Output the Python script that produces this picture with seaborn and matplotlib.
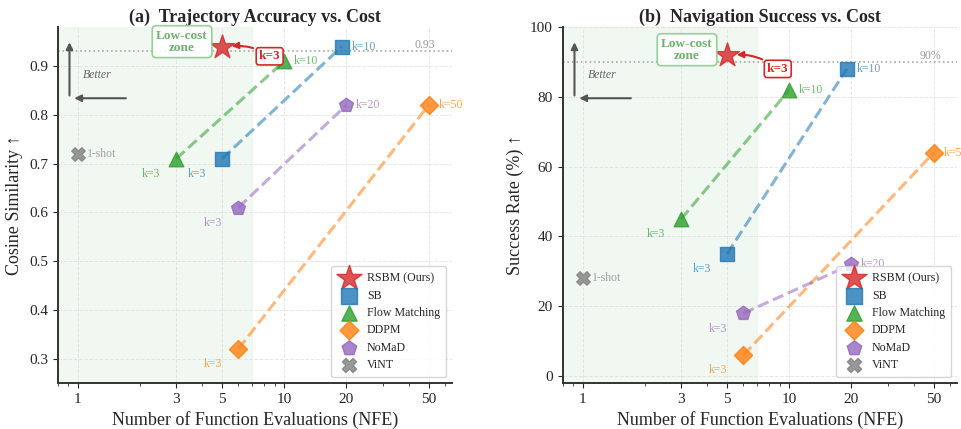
import numpy as np
import pandas as pd
import matplotlib
matplotlib.use('Agg')
import matplotlib.pyplot as plt
import seaborn as sns
from matplotlib.ticker import FixedLocator, FixedFormatter, LogLocator, NullFormatter

# Data
methods = ['RSBM (Ours)', 'SB', 'Flow Matching', 'DDPM', 'NoMaD', 'ViNT']
nfe = {
    'RSBM (Ours)': [5],
    'SB': [5, 19],
    'Flow Matching': [3, 10],
    'DDPM': [6, 50],
    'NoMaD': [6, 20],
    'ViNT': [1],
}
cos_sim = {
    'RSBM (Ours)': [0.94],
    'SB': [0.71, 0.94],
    'Flow Matching': [0.71, 0.91],
    'DDPM': [0.32, 0.82],
    'NoMaD': [0.61, 0.82],
    'ViNT': [0.72],
}
success = {
    'RSBM (Ours)': [92],
    'SB': [35, 88],
    'Flow Matching': [45, 82],
    'DDPM': [6, 64],
    'NoMaD': [18, 32],
    'ViNT': [28],
}
k_labels = {
    'RSBM (Ours)': [],
    'SB': ['k=3', 'k=10'],
    'Flow Matching': ['k=3', 'k=10'],
    'DDPM': ['k=3', 'k=50'],
    'NoMaD': ['k=3', 'k=20'],
    'ViNT': ['1-shot'],
}
x_ticks = [1, 3, 5, 10, 20, 50]

colors = {
    'RSBM (Ours)': '#d62728', 'SB': '#1f77b4', 'Flow Matching': '#2ca02c',
    'DDPM': '#ff7f0e', 'NoMaD': '#9467bd', 'ViNT': '#7f7f7f',
}
markers = {
    'RSBM (Ours)': '*', 'SB': 's', 'Flow Matching': '^',
    'DDPM': 'D', 'NoMaD': 'p', 'ViNT': 'X',
}
sizes = {
    'RSBM (Ours)': 330, 'SB': 110, 'Flow Matching': 110,
    'DDPM': 85, 'NoMaD': 110, 'ViNT': 95,
}

sns.set_style('ticks')
plt.rcParams['font.family'] = ['Liberation Serif', 'DejaVu Serif']
plt.rcParams['mathtext.fontset'] = 'stix'


def draw_panel(ax, values, title, ylabel, ylim, yticks, ref_val, ref_txt,
               zone_y, k3_xy):
    ax.axvspan(0.8, 7, color='#e8f3e8', alpha=0.6, zorder=0)
    ax.axhline(ref_val, color='#aaaaaa', ls=':', lw=1.2, zorder=1)
    ax.text(48, ref_val, ref_txt, color='#999999', fontsize=8.5,
            ha='center', va='bottom')

    for m in methods:
        df = pd.DataFrame({'nfe': nfe[m], 'val': values[m]})
        if len(df) > 1:
            sns.lineplot(data=df, x='nfe', y='val', ax=ax, color=colors[m],
                         ls='--', lw=2.2, alpha=0.55, legend=False, zorder=2)
        sns.scatterplot(data=df, x='nfe', y='val', ax=ax, color=colors[m],
                        marker=markers[m], s=sizes[m], alpha=0.8,
                        edgecolor=colors[m], linewidth=1.0, label=m, zorder=4)
        for i, lab in enumerate(k_labels[m]):
            if lab == 'k=3':
                ax.annotate(lab, (df.nfe[i], df.val[i]), xytext=(-18, -11),
                            textcoords='offset points', ha='center',
                            va='center', fontsize=8.5, color=colors[m], alpha=0.7)
            else:
                ax.annotate(lab, (df.nfe[i], df.val[i]), xytext=(7, 0),
                            textcoords='offset points', ha='left',
                            va='center', fontsize=8.5, color=colors[m], alpha=0.7)

    # RSBM callout
    star_x, star_y = nfe['RSBM (Ours)'][0], values['RSBM (Ours)'][0]
    ax.annotate('k=3', xy=(star_x * 1.08, star_y), xytext=k3_xy,
                fontsize=9.5, fontweight='bold', color='#d62728',
                ha='center', va='center',
                bbox=dict(boxstyle='round,pad=0.2', fc='white', ec='#d62728', lw=1.2),
                arrowprops=dict(arrowstyle='-|>', color='#d62728', lw=1.5,
                                connectionstyle='arc3,rad=0.2'), zorder=6)
    ax.text(3.2, zone_y, 'Low-cost\nzone', fontsize=9.5, fontweight='bold',
            color='#6bb36b', ha='center', va='center', linespacing=1.0,
            bbox=dict(boxstyle='round,pad=0.3', fc='white', ec='#8ccc8c',
                      lw=1.2, alpha=0.9), zorder=5)

    # "Better" arrows
    ax.annotate('', xy=(0.03, 0.965), xytext=(0.03, 0.80), xycoords='axes fraction',
                arrowprops=dict(arrowstyle='-|>', color='#555555', lw=1.5))
    ax.annotate('', xy=(0.035, 0.80), xytext=(0.18, 0.80), xycoords='axes fraction',
                arrowprops=dict(arrowstyle='-|>', color='#555555', lw=1.5))
    ax.text(0.1, 0.865, 'Better', transform=ax.transAxes, fontsize=8.5,
            style='italic', color='#666666', ha='center', va='center')

    ax.set_xscale('log')
    ax.set_xlim(0.8, 65)
    ax.set_ylim(*ylim)
    ax.xaxis.set_major_locator(FixedLocator(x_ticks))
    ax.xaxis.set_major_formatter(FixedFormatter([str(t) for t in x_ticks]))
    ax.xaxis.set_minor_locator(LogLocator(subs=np.arange(2, 10)))
    ax.xaxis.set_minor_formatter(NullFormatter())
    ax.set_yticks(yticks)
    ax.grid(True, ls='--', color='#dddddd', lw=0.7, alpha=0.7)
    ax.set_axisbelow(True)
    sns.despine(ax=ax)
    for sp in ['left', 'bottom']:
        ax.spines[sp].set_linewidth(1.4)
        ax.spines[sp].set_color('#333333')
    ax.tick_params(labelsize=11)
    ax.set_xlabel('Number of Function Evaluations (NFE)', fontsize=13)
    ax.set_ylabel(ylabel, fontsize=13)
    ax.set_title(title, fontsize=13, fontweight='bold', pad=4)
    leg = ax.legend(loc='lower right', fontsize=8.6, frameon=True,
                    borderpad=0.5, labelspacing=0.45, handletextpad=0.5,
                    markerscale=1.05)
    leg.get_frame().set_edgecolor('#cccccc')


fig, axes = plt.subplots(1, 2, figsize=(9.61, 4.29), dpi=100)
draw_panel(axes[0], cos_sim, '(a)  Trajectory Accuracy vs. Cost',
           'Cosine Similarity \u2191', (0.25, 0.98),
           [0.3, 0.4, 0.5, 0.6, 0.7, 0.8, 0.9], 0.93, '0.93', 0.95, (8.5, 0.92))
draw_panel(axes[1], success, '(b)  Navigation Success vs. Cost',
           'Success Rate (%) \u2191', (-2, 100),
           [0, 20, 40, 60, 80, 100], 90, '90%', 93.5, (8.8, 88))
fig.subplots_adjust(left=0.06, right=0.996, bottom=0.107, top=0.937, wspace=0.28)
fig.savefig('out.png', dpi=100)
